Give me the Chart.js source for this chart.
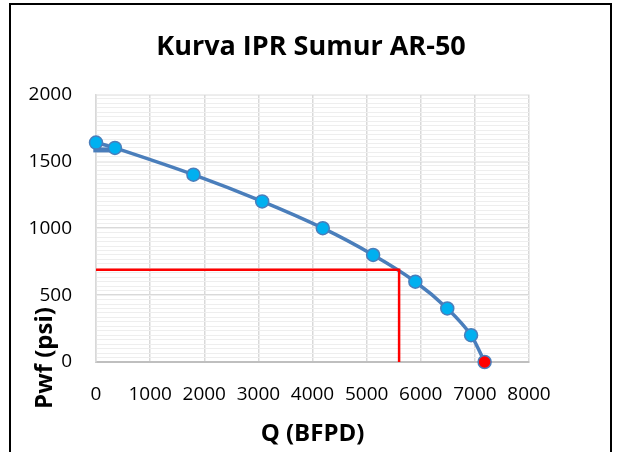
<!DOCTYPE html>
<html>
  <head>
    <meta charset="utf-8" />
    <script src="https://cdn.jsdelivr.net/npm/chart.js"></script>
    <title>Kurva IPR</title>
    <style>
      body { margin: 0; background: #fff; }
      #wrap { position: relative; width: 622px; height: 452px; }
      #frame {
        position: absolute; left: 9px; top: 3px; width: 603px; height: 470px;
        border: 2px solid #000; box-sizing: border-box; pointer-events: none;
      }
    </style>
  </head>
  <body>
    <div id="wrap">
      <canvas id="ipr" width="622" height="452"></canvas>
      <div id="frame"></div>
    </div>

    <script>
      // data kurva IPR
      var chartTitle = "Kurva IPR Sumur AR-50";
      var xTitle = "Q (BFPD)";
      var yTitle = "Pwf (psi)";

      var q = [0, 350, 1800, 3070, 4190, 5120, 5900, 6490, 6930, 7180];
      var pwf = [1640, 1600, 1400, 1200, 1000, 800, 600, 400, 200, 0];

      // garis operasi (merah)
      var opQ = [0, 5600, 5600];
      var opPwf = [690, 690, 0];

      // potongan garis di awal kurva
      var stubQ = [-50, 350];
      var stubPwf = [1585, 1585];

      var xTicks = [0, 1000, 2000, 3000, 4000, 5000, 6000, 7000, 8000];
      var yTicks = [0, 500, 1000, 1500, 2000];

      function toPoints(xs, ys) {
        return xs.map(function (x, i) { return { x: x, y: ys[i] }; });
      }

      var blue = "#4A7EBB";
      var font = "'Open Sans', 'DejaVu Sans', sans-serif";

      // judul sumbu digambar manual
      var axisTitles = {
        id: "axisTitles",
        afterDraw: function (chart) {
          var ctx = chart.ctx;
          var area = chart.chartArea;
          ctx.save();
          ctx.fillStyle = "#000";
          ctx.font = "bold 24px " + font;
          ctx.textAlign = "center";
          ctx.textBaseline = "middle";
          ctx.fillText(xTitle, (area.left + area.right) / 2, 434);
          ctx.translate(45, 358);
          ctx.rotate(-Math.PI / 2);
          ctx.fillText(yTitle, 0, 0);
          ctx.restore();
        },
      };

      new Chart(document.getElementById("ipr"), {
        type: "scatter",
        data: {
          datasets: [
            {
              label: "operasi",
              data: toPoints(opQ, opPwf),
              showLine: true,
              borderColor: "#FF0000",
              borderWidth: 2.5,
              pointRadius: 0,
              order: 0,
            },
            {
              label: "IPR",
              data: toPoints(q, pwf),
              showLine: true,
              borderColor: blue,
              borderWidth: 3.5,
              tension: 0.25,
              pointRadius: 6.5,
              pointBorderWidth: 1.5,
              pointBorderColor: blue,
              pointBackgroundColor: function (c) {
                return c.dataIndex === q.length - 1 ? "#FF0000" : "#00B0F0";
              },
              clip: false,
              order: 1,
            },
            {
              label: "stub",
              data: toPoints(stubQ, stubPwf),
              showLine: true,
              borderColor: blue,
              borderWidth: 5,
              pointRadius: 0,
              clip: false,
              order: 2,
            },
          ],
        },
        options: {
          responsive: false,
          animation: false,
          layout: { padding: 0 },
          plugins: {
            legend: { display: false },
            tooltip: { enabled: false },
            title: {
              display: true,
              text: chartTitle,
              color: "#000",
              font: { family: font, size: 27, weight: "bold", lineHeight: 1.2 },
              padding: { top: 31, bottom: 31 },
            },
          },
          scales: {
            x: {
              type: "linear",
              min: 0,
              max: 8000,
              afterBuildTicks: function (s) {
                s.ticks = xTicks.map(function (v) { return { value: v }; });
              },
              afterFit: function (s) { s.height = 90; },
              grid: { color: "#D9D9D9", lineWidth: 1.5, drawTicks: false },
              border: { color: "#BFBFBF", width: 2 },
              ticks: {
                color: "#000", padding: 21, maxRotation: 0,
                font: { family: font, size: 19 },
                callback: function (v) { return String(v); },
              },
            },
            y: {
              min: 0,
              max: 2000,
              afterBuildTicks: function (s) {
                s.ticks = yTicks.map(function (v) { return { value: v }; });
              },
              afterFit: function (s) { s.width = 96; },
              grid: { color: "#D9D9D9", lineWidth: 1.5, drawTicks: false },
              border: { color: "#D9D9D9", width: 1.5 },
              ticks: {
                color: "#000", padding: 24,
                font: { family: font, size: 19 },
                callback: function (v) { return String(v); },
              },
            },
            // garis bantu minor, juga memberi ruang di kanan
            yMinor: {
              position: "right",
              z: -1,
              min: 0,
              max: 60,
              ticks: { display: false, stepSize: 1 },
              afterFit: function (s) { s.width = 93; },
              grid: { color: "#EEEEEE", lineWidth: 1, drawTicks: false },
              border: { display: false },
            },
          },
        },
        plugins: [axisTitles],
      });
    </script>
  </body>
</html>
